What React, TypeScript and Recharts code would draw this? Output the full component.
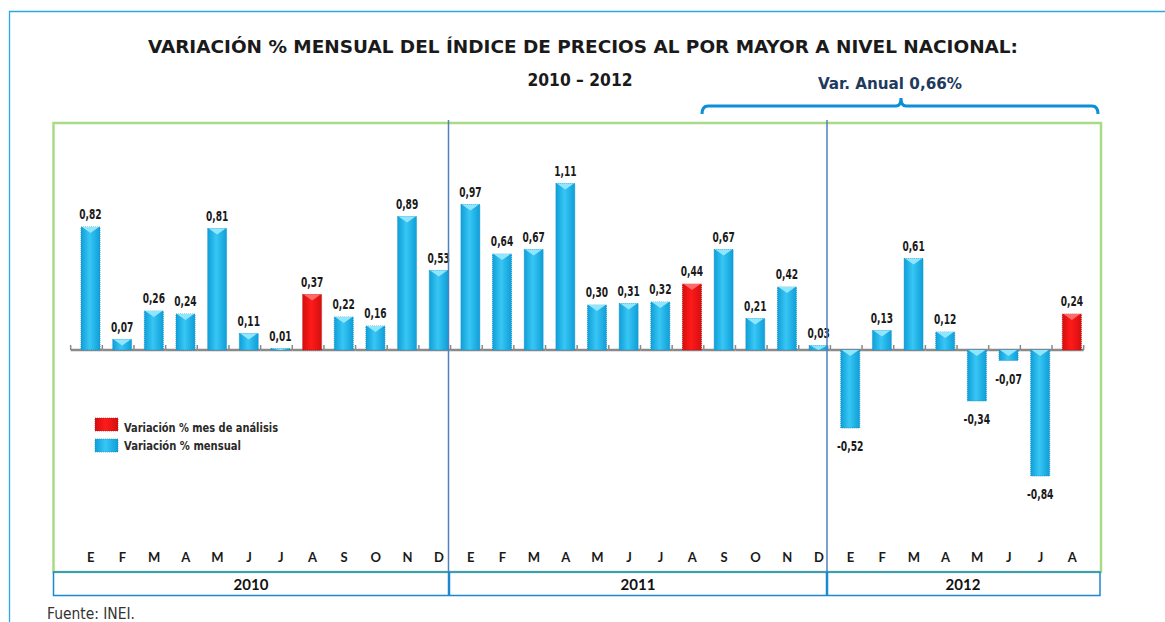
import { Bar, BarChart, Cell, LabelList, XAxis, YAxis } from 'recharts'

const MONTHS = ['E', 'F', 'M', 'A', 'M', 'J', 'J', 'A', 'S', 'O', 'N', 'D']
const YEARS = ['2010', '2011', '2012']
const VALUES_2010 = [0.82, 0.07, 0.26, 0.24, 0.81, 0.11, 0.01, 0.37, 0.22, 0.16, 0.89, 0.53]
const VALUES_2011 = [0.97, 0.64, 0.67, 1.11, 0.3, 0.31, 0.32, 0.44, 0.67, 0.21, 0.42, 0.03]
const VALUES_2012 = [-0.52, 0.13, 0.61, 0.12, -0.34, -0.07, -0.84, 0.24]
const ANALYSIS_MONTH = 7 // agosto

type Row = { key: string; mes: string; valor: number; analisis: boolean }

const data: Row[] = [VALUES_2010, VALUES_2011, VALUES_2012].flatMap((vals, y) =>
  vals.map((v, i) => ({
    key: `${YEARS[y]}-${i}`,
    mes: MONTHS[i],
    valor: v,
    analisis: i === ANALYSIS_MONTH,
  }))
)

const W = 1165
const H = 622
const MARGIN = { top: 125, right: 77, bottom: 47, left: 75 }
const BAND = (W - MARGIN.left - MARGIN.right) / data.length

const NARROW = '"Liberation Sans Narrow", "Arial Narrow", "DejaVu Sans Condensed", sans-serif'
const CALIBRI = 'Lato, "Open Sans", sans-serif'

const fmt = (v: number) => v.toFixed(2).replace('.', ',')

// ancho aproximado del texto en Arial Narrow negrita, para comprimir el fallback
const narrowWidth = (s: string, size: number) =>
  s.split('').reduce((w, c) => w + (c === ',' ? 0.228 : c === '-' ? 0.3 : 0.456) * size, 0)

function BarShape(props: any) {
  const { x, y, width, height, payload, index } = props
  const top = Math.min(y, y + height)
  const bottom = Math.max(y, y + height)
  const zero = payload.valor >= 0 ? bottom : top
  const cx = x + width / 2
  const left = cx - BAND / 2 - 4
  const right = left + BAND
  const red = payload.analisis
  return (
    <g>
      <line x1={left} x2={right} y1={zero} y2={zero} stroke="#8a8a8a" strokeWidth={2.5} />
      <line x1={left} x2={left} y1={zero} y2={zero - 5} stroke="#8a8a8a" strokeWidth={1.5} />
      {index === data.length - 1 && (
        <line x1={right} x2={right} y1={zero} y2={zero - 5} stroke="#8a8a8a" strokeWidth={1.5} />
      )}
      <rect
        x={x}
        y={top}
        width={width}
        height={Math.max(bottom - top, 1)}
        fill={red ? 'url(#gRed)' : 'url(#gBlue)'}
        stroke={red ? '#c01010' : '#1a8fc4'}
        strokeWidth={0.8}
        strokeDasharray="1 1"
      />
      <path
        d={`M${x + 1},${top} L${x + width - 1},${top} L${cx},${top + Math.min(6, bottom - top)} Z`}
        fill={red ? '#ff6a6a' : '#8fe6ff'}
      />
    </g>
  )
}

function ValueLabel(props: any) {
  const { x, y, width, height, value } = props
  const top = Math.min(y, y + height)
  const bottom = Math.max(y, y + height)
  const ty = value >= 0 ? top - 8 : bottom + 23
  const s = fmt(value)
  return (
    <text
      x={x + width / 2}
      y={ty}
      textAnchor="middle"
      fontFamily={NARROW}
      fontWeight="bold"
      fontSize={14}
      fill="#1a1a1a"
      textLength={narrowWidth(s, 14)}
      lengthAdjust="spacingAndGlyphs"
    >
      {s}
    </text>
  )
}

function MonthTick(props: any) {
  const { x, y, payload } = props
  const i = Number(String(payload.value).split('-')[1])
  return (
    <text x={x} y={y} dy="0.71em" textAnchor="middle" fontFamily={CALIBRI} fontWeight="bold" fontSize={13} fill="#1a1a1a">
      {MONTHS[i]}
    </text>
  )
}

export default function App() {
  return (
    <div style={{ position: 'absolute', left: 0, top: 0, width: W, height: H, background: '#fff', overflow: 'hidden' }}>
      <div style={{ position: 'absolute', left: 0, top: 0 }}>
        <BarChart width={W} height={H} data={data} margin={MARGIN}>
          <defs>
            <linearGradient id="gBlue" x1="0" x2="1" y1="0" y2="0">
              <stop offset="0" stopColor="#0f9fd8" />
              <stop offset="0.45" stopColor="#38c6f4" />
              <stop offset="1" stopColor="#0f9fd8" />
            </linearGradient>
            <linearGradient id="gRed" x1="0" x2="1" y1="0" y2="0">
              <stop offset="0" stopColor="#d40f0f" />
              <stop offset="0.45" stopColor="#ff1a1a" />
              <stop offset="1" stopColor="#d40f0f" />
            </linearGradient>
          </defs>
          <XAxis dataKey="key" axisLine={false} tickLine={false} height={30} interval={0} tick={<MonthTick />} />
          <YAxis hide domain={[-1.3, 1.5]} allowDataOverflow />
          <Bar dataKey="valor" barSize={19} isAnimationActive={false} shape={<BarShape />}>
            {data.map((d) => (
              <Cell key={d.key} fill={d.analisis ? '#ff0000' : '#1aaee6'} />
            ))}
            <LabelList dataKey="valor" content={<ValueLabel />} />
          </Bar>
        </BarChart>
      </div>
      <svg width={W} height={H} style={{ position: 'absolute', left: 0, top: 0, pointerEvents: 'none' }}>
        {/* marco exterior */}
        <path d={`M9.5,${H} L9.5,11.5 L${W},11.5`} fill="none" stroke="#29a8e3" strokeWidth={1.3} />
        {/* área del gráfico */}
        <rect x={53.5} y={123} width={1047.5} height={449} fill="none" stroke="#a9db86" strokeWidth={2.5} />
        <line x1={448.5} x2={448.5} y1={120} y2={572} stroke="#4f81bd" strokeWidth={1.5} />
        <line x1={827} x2={827} y1={120} y2={572} stroke="#4f81bd" strokeWidth={1.5} />
        {/* años */}
        <rect x={53.5} y={572} width={1046.5} height={23.5} fill="none" stroke="#1c88d0" strokeWidth={1.5} />
        <line x1={449} x2={449} y1={572} y2={596} stroke="#1c88d0" strokeWidth={2.5} />
        <line x1={827} x2={827} y1={572} y2={596} stroke="#1c88d0" strokeWidth={2.5} />
        {YEARS.map((yr, i) => (
          <text
            key={yr}
            x={[251, 638, 963][i]}
            y={590}
            textAnchor="middle"
            fontFamily={CALIBRI}
            fontWeight="bold"
            fontSize={15}
            fill="#111"
          >
            {yr}
          </text>
        ))}
        {/* títulos */}
        <text x={583} y={53} textAnchor="middle" fontFamily={NARROW} fontWeight="bold" fontSize={18} fill="#1a1a1a" textLength={870} lengthAdjust="spacingAndGlyphs">
          VARIACIÓN % MENSUAL DEL ÍNDICE DE  PRECIOS AL POR MAYOR A NIVEL NACIONAL:
        </text>
        <text x={580} y={86} textAnchor="middle" fontFamily={NARROW} fontWeight="bold" fontSize={18} fill="#1a1a1a" textLength={105} lengthAdjust="spacingAndGlyphs">
          2010 – 2012
        </text>
        <text x={890} y={89} textAnchor="middle" fontFamily={NARROW} fontWeight="bold" fontSize={16} fill="#1f3a5c" textLength={144} lengthAdjust="spacingAndGlyphs">
          Var. Anual  0,66%
        </text>
        <path
          d="M702,114 Q702,106 708,106 L896,106 Q901,106 901,98 Q901,106 906,106 L1092,106 Q1098,106 1098,114"
          fill="none"
          stroke="#0b8fd6"
          strokeWidth={3}
        />
        {/* leyenda */}
        <rect x={95} y={418} width={23} height={13} fill="url(#gRed)" stroke="#b01010" strokeWidth={0.6} strokeDasharray="1 1" />
        <rect x={95} y={439} width={23} height={13} fill="url(#gBlue)" stroke="#1a8fc4" strokeWidth={0.6} strokeDasharray="1 1" />
        <text x={124} y={432} fontFamily={NARROW} fontWeight="bold" fontSize={11.5} fill="#2a2a2a" textLength={154} lengthAdjust="spacingAndGlyphs">
          Variación % mes de análisis
        </text>
        <text x={124} y={450} fontFamily={NARROW} fontWeight="bold" fontSize={11.5} fill="#2a2a2a" textLength={117} lengthAdjust="spacingAndGlyphs">
          Variación % mensual
        </text>
        <text x={47} y={619} fontFamily={NARROW} fontSize={15} fill="#333" textLength={88} lengthAdjust="spacingAndGlyphs">
          Fuente: INEI.
        </text>
      </svg>
    </div>
  )
}
